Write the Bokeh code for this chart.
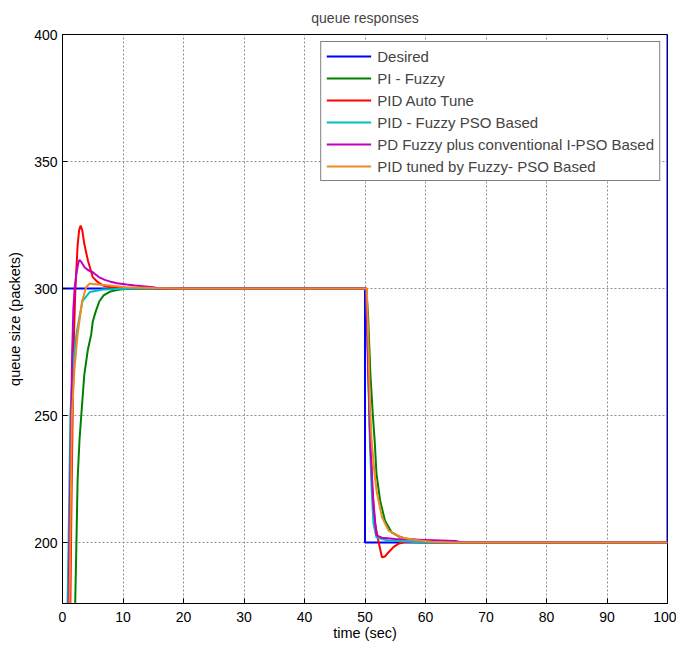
from bokeh.plotting import figure
from bokeh.models import Range1d, FixedTicker
from bokeh.embed import file_html
from bokeh.resources import INLINE

# ---- data ----
x_ticks = [0, 10, 20, 30, 40, 50, 60, 70, 80, 90, 100]
y_ticks = [200, 250, 300, 350, 400]

t_desired = [0, 50, 50, 100, 100]
v_desired = [300, 300, 200, 200, 400]

t_pi = [0, 1.9, 2.1, 2.3, 2.5, 2.8, 3.1, 3.6, 4.2, 4.75, 5.0, 5.5, 6.1, 6.8, 7.8, 8.8, 9.8, 11, 13,
        50.2, 50.5, 50.9, 51.3, 51.6, 51.9, 52.5, 53.3, 54.4, 55.5, 56.6, 59.4, 62, 66, 100]
v_pi = [0, 140, 176, 200, 225, 240, 250, 266, 276, 282, 287, 291, 295, 297.3, 298.7, 299.3, 299.7, 299.9, 300,
        300, 290, 266, 250, 240, 227, 216.5, 208.7, 204, 202.5, 201.6, 200.8, 200.3, 200, 200]

t_auto = [0, 1.1, 1.3, 1.5, 1.7, 1.9, 2.1, 2.3, 2.5, 2.75, 3.0, 3.3, 3.6, 4.2, 5.0, 5.85, 6.7, 8, 10, 12,
          50.2, 50.5, 50.8, 51.2, 51.7, 52.2, 52.8, 53.3, 53.9, 54.7, 55.5, 56.6, 58, 60, 100]
v_auto = [0, 150, 176, 220, 255, 282, 298, 308, 317, 323, 324.8, 322.5, 317.6, 311, 304.5, 302.5, 301.2, 300.5, 300.2, 300,
          300, 275, 245, 222, 207, 200.8, 194.2, 194.5, 196.2, 198.2, 199.5, 200.3, 200.2, 200, 200]

t_fpso = [0, 0.7, 0.83, 1.0, 1.3, 1.7, 2.3, 2.8, 3.3, 4.5, 6.7, 9, 12,
          50.2, 50.5, 50.8, 51.1, 51.4, 51.9, 53.8, 57, 60, 100]
v_fpso = [0, 140, 176, 200, 250, 269, 282, 288.7, 295, 298.6, 299.6, 299.8, 300,
          300, 270, 240, 220.5, 207.4, 202, 200.8, 200.4, 200, 200]

t_pdi = [0, 0.8, 1.0, 1.2, 1.4, 1.6, 1.8, 2.0, 2.3, 2.6, 2.8, 3.1, 3.64, 4.2, 5.0, 6.0, 7.0, 7.8, 9, 10.6, 12, 15, 16,
         50.2, 50.5, 50.9, 51.4, 51.9, 52.8, 55, 60, 65, 66, 100]
v_pdi = [0, 140, 176, 210, 245, 275, 292, 300, 306, 310, 311.3, 310.5, 308.4, 307.3, 306.4, 304.5, 303.4, 302.8, 302.1, 301.6, 301.2, 300.5, 300,
         300, 270, 238, 214, 202.8, 201.9, 201.4, 201, 200.6, 200, 200]

t_tuned = [0, 1.0, 1.16, 1.3, 1.55, 2.0, 2.5, 3.25, 3.9, 4.5, 5.0, 7.8, 10.5, 15, 20,
           50.3, 50.6, 50.8, 51.1, 51.5, 51.9, 52.8, 53.9, 56, 58.3, 61, 65, 100]
v_tuned = [0, 140, 176, 200, 250, 269, 282, 295, 300.5, 302, 301.8, 301.2, 300.5, 300.2, 300,
           300, 275, 255, 240, 229, 220.5, 210, 204.7, 202, 201, 200.3, 200, 200]

series = [
    ("Desired", t_desired, v_desired, "#0000FF"),
    ("PI - Fuzzy", t_pi, v_pi, "#008000"),
    ("PID Auto Tune", t_auto, v_auto, "#FF0000"),
    ("PID - Fuzzy PSO Based", t_fpso, v_fpso, "#00BFBF"),
    ("PD Fuzzy plus conventional I-PSO Based", t_pdi, v_pdi, "#BF00BF"),
    ("PID tuned by Fuzzy- PSO Based", t_tuned, v_tuned, "#EE8A1E"),
]

FONT = "Liberation Sans"

p = figure(width=676, height=645, output_backend="svg", toolbar_location=None,
           x_range=Range1d(0, 100), y_range=Range1d(176, 400),
           min_border_left=62, min_border_right=9, min_border_top=34, min_border_bottom=42,
           title="queue responses")

p.title.text_font = FONT
p.title.text_font_size = "14px"
p.title.text_font_style = "normal"
p.title.align = "center"
p.title.standoff = 4
p.title.padding = dict(left=0, right=0, top=0, bottom=7)

for name, t, v, c in series:
    p.line(t, v, line_color=c, line_width=2, legend_label=name)

for ax in (p.xaxis[0], p.yaxis[0]):
    ax.major_tick_in = 5
    ax.major_tick_out = 0
    ax.minor_tick_line_color = None
    ax.axis_line_color = "black"
    ax.major_tick_line_color = "black"
    ax.major_label_text_font = FONT
    ax.major_label_text_font_size = "14px"
    ax.major_label_text_color = "black"
    ax.axis_label_text_font = FONT
    ax.axis_label_text_font_size = "14.5px"
    ax.axis_label_text_font_style = "normal"
    ax.axis_label_text_color = "black"

p.xaxis[0].ticker = FixedTicker(ticks=x_ticks)
p.yaxis[0].ticker = FixedTicker(ticks=y_ticks)
p.xaxis[0].axis_label = "time (sec)"
p.yaxis[0].axis_label = "queue size (packets)"
p.xaxis[0].major_label_standoff = 8
p.xaxis[0].axis_label_standoff = 0
p.yaxis[0].major_label_standoff = 5
p.yaxis[0].axis_label_standoff = 8

p.xgrid.ticker = FixedTicker(ticks=x_ticks)
p.ygrid.ticker = FixedTicker(ticks=y_ticks)
p.grid.grid_line_color = "#909090"
p.grid.grid_line_dash = "2 2"
p.grid.grid_line_width = 1

p.outline_line_color = "black"
p.outline_line_width = 1

lg = p.legend[0]
lg.location = "top_right"
lg.margin = 7
lg.padding = 5
lg.spacing = 4
lg.glyph_width = 45
lg.glyph_height = 18
lg.label_height = 18
lg.label_standoff = 6
lg.label_text_font = FONT
lg.label_text_font_size = "15px"
lg.border_line_color = "black"
lg.border_line_width = 1
lg.background_fill_alpha = 1

open("out.html", "w").write(file_html(p, INLINE))
